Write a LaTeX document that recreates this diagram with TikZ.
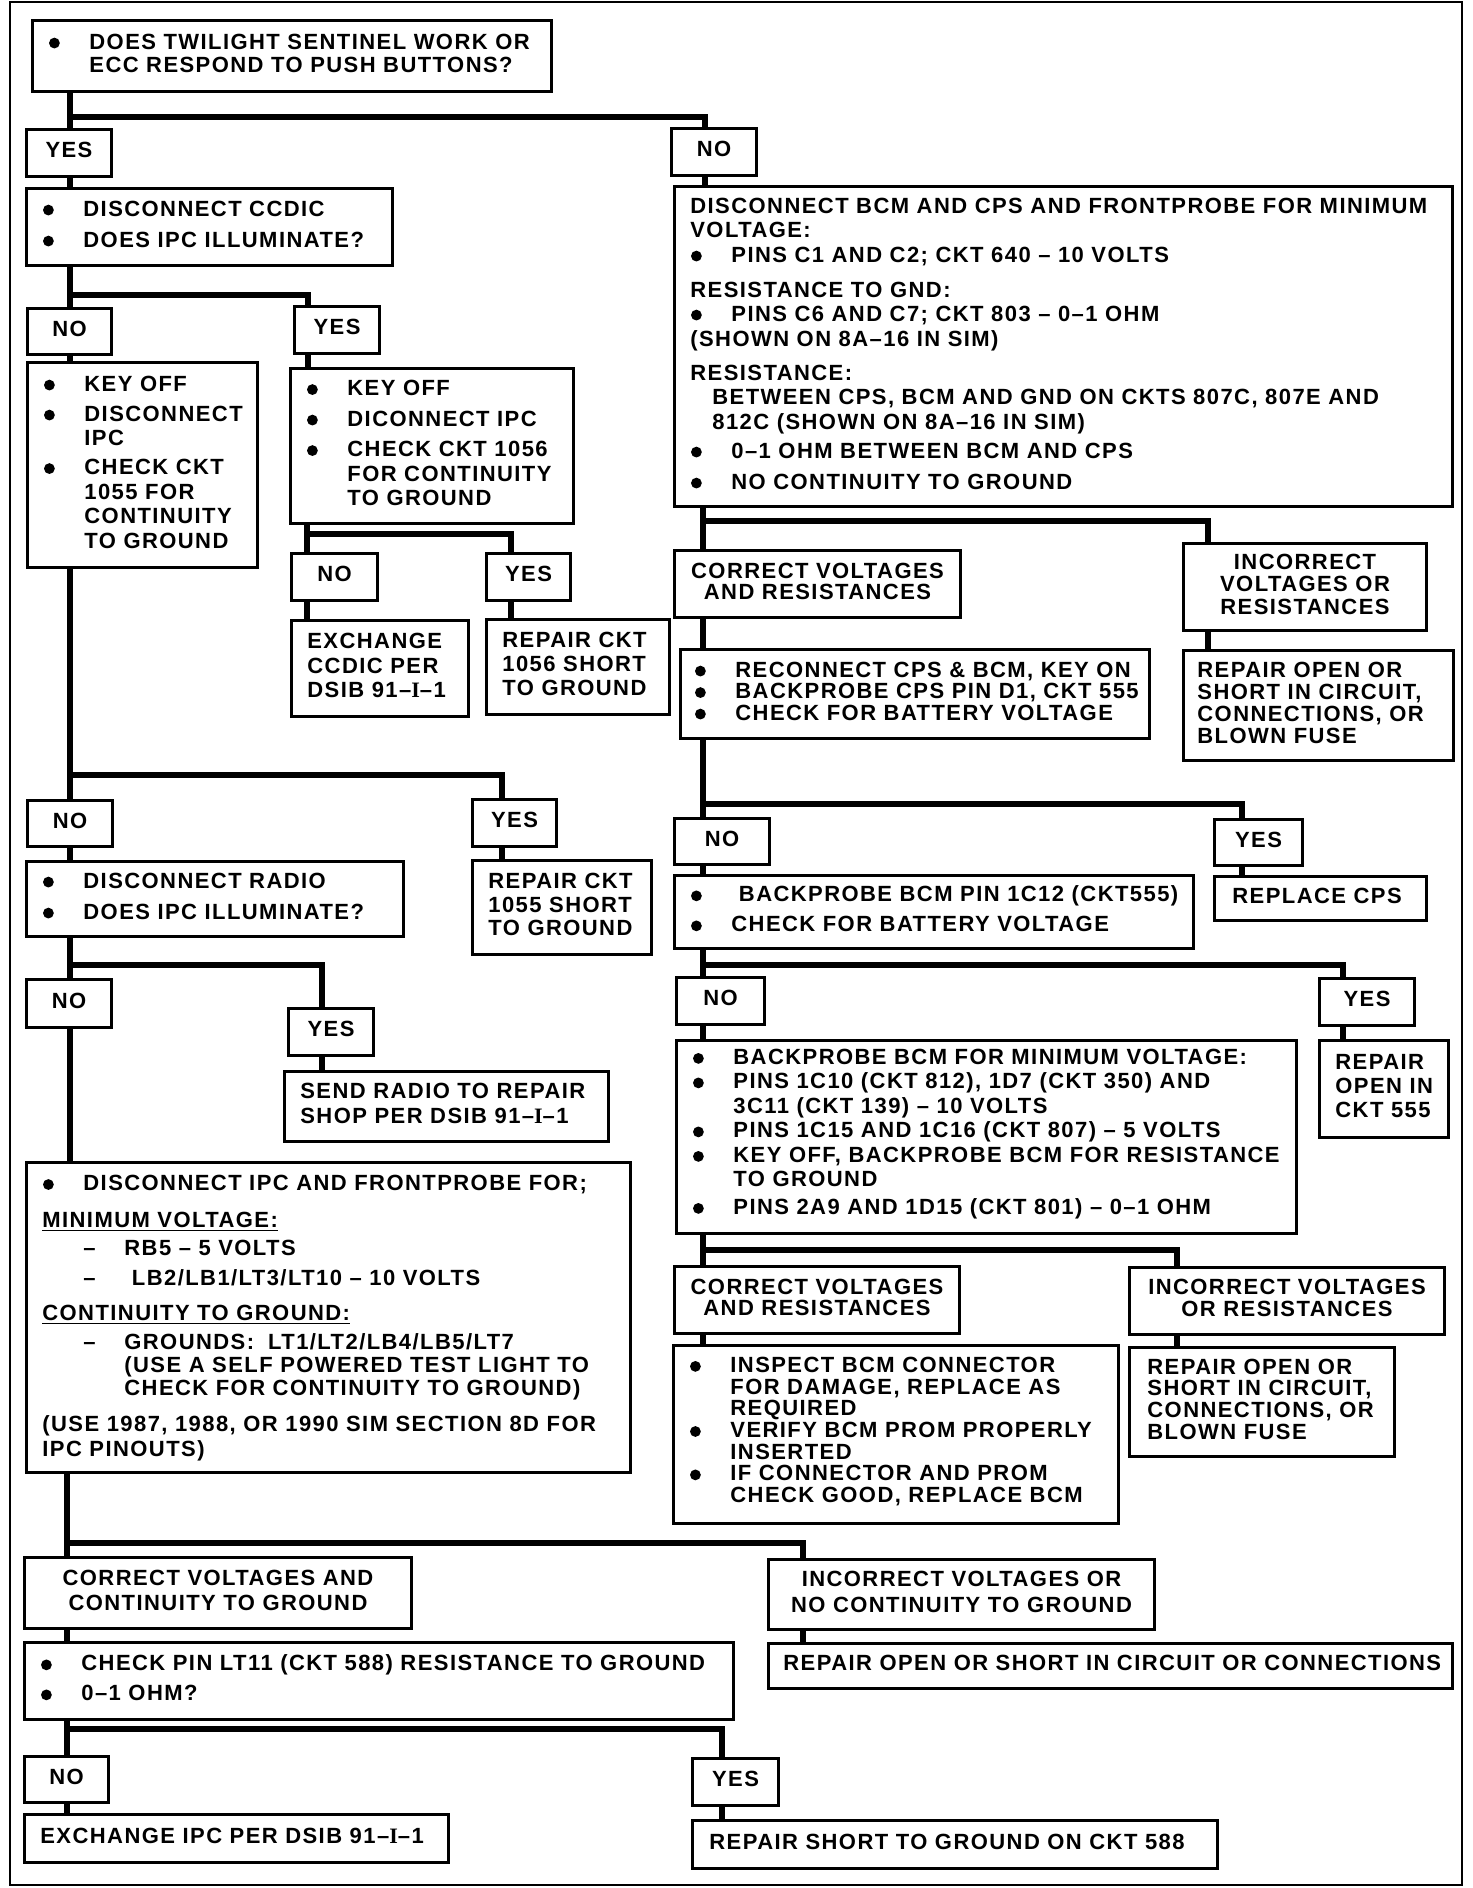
\documentclass[tikz,border=0pt]{standalone}
\usepackage{fontspec}
\setmainfont{Liberation Sans}[LetterSpace=6.5]
\newfontfamily\serifI{Liberation Serif}[LetterSpace=6.5]
\usepackage{graphicx}
\newcommand\bu{\makebox[20.5pt][l]{\hspace{0.3pt}\tikz[baseline=0pt]\fill (3pt,3pt) circle[radius=2.7pt];}}
\newcommand\ind{\hspace*{20.5pt}}
\newcommand\dl{\hspace*{20.5pt}\makebox[20.5pt][l]{–}}
\newcommand\dli{\hspace*{41pt}}
\newcommand\sI{{\serifI\bfseries I}}
\begin{document}
\begin{tikzpicture}[x=0.5pt, y=-0.5pt,
  bx/.style={draw, line width=1.5pt, inner sep=0pt, anchor=north west},
  lab/.style={draw, line width=1.5pt, inner sep=0pt, anchor=north west, align=center,
    font=\fontsize{11pt}{13pt}\selectfont\bfseries, execute at end node={\rule[-3pt]{0pt}{3pt}}},
  tx/.style={anchor=west, inner sep=0pt, align=left, yshift=1.5pt},
  fnt/.style={font=\fontsize{11pt}{#1}\selectfont\bfseries},
  conn/.style={line width=3pt, line join=miter},
  sz/.style 2 args={minimum width=#1, minimum height=#2}]
\fill[white] (0,0) rectangle (1472,1888);
\useasboundingbox (0,0) rectangle (1472,1888);
\draw[line width=1.3pt] (10,2) rectangle (1462,1885);

% ---------- left column ----------
\node[bx, sz={259.5pt}{35.5pt}] (q1) at (31,19) {};
\node[tx, fnt=11.5pt] (q1t) at ([xshift=8.5pt]q1.west) {\bu DOES TWILIGHT SENTINEL WORK OR\\ \ind ECC RESPOND TO PUSH BUTTONS?};
\node[lab, sz={42.5pt}{23.5pt}] (yes1) at (25,128) {YES};
\node[lab, sz={42.5pt}{23.5pt}] (no1) at (670,127) {NO};

\node[bx, sz={183pt}{38.5pt}] (ccdic) at (25,187) {};
\node[tx, fnt=15.5pt] (ccdict) at ([xshift=8.5pt]ccdic.west) {\bu DISCONNECT CCDIC\\ \bu DOES IPC ILLUMINATE?};
\node[lab, sz={42pt}{23pt}] (no2) at (26,307) {NO};
\node[lab, sz={42.5pt}{23.5pt}] (yes2) at (293,305) {YES};

\node[bx, sz={115pt}{102.5pt}] (keyL) at (26,361) {};
\node[tx, fnt=12.25pt] (keyLt) at ([xshift=8.5pt]keyL.west) {\bu KEY OFF\\[2.75pt] \bu DISCONNECT\\ \ind IPC\\[2.25pt] \bu CHECK CKT\\ \ind 1055 FOR\\ \ind CONTINUITY\\ \ind TO GROUND};
\node[bx, sz={141.5pt}{77.5pt}] (keyR) at (289,367) {};
\node[tx, fnt=12.25pt] (keyRt) at ([xshift=8.5pt]keyR.west) {\bu KEY OFF\\[3pt] \bu DICONNECT IPC\\[3pt] \bu CHECK CKT 1056\\ \ind FOR CONTINUITY\\ \ind TO GROUND};

\node[lab, sz={43pt}{23.5pt}] (no3) at (290,552) {NO};
\node[lab, sz={42pt}{23.5pt}] (yes3) at (485,552) {YES};
\node[bx, sz={88.5pt}{48pt}] (exch) at (290,619) {};
\node[tx, fnt=12.25pt] (excht) at ([xshift=8.5pt]exch.west) {EXCHANGE\\ CCDIC PER\\ DSIB 91–\sI–1};
\node[bx, sz={91.5pt}{47.5pt}] (rep1056) at (485,618) {};
\node[tx, fnt=12pt] (rep1056t) at ([xshift=8.5pt]rep1056.west) {REPAIR CKT\\ 1056 SHORT\\ TO GROUND};

\node[lab, sz={42.5pt}{23pt}] (no4) at (26,799) {NO};
\node[lab, sz={42pt}{23.5pt}] (yes4) at (471,798) {YES};
\node[bx, sz={188.5pt}{37.5pt}] (radio) at (25,860) {};
\node[tx, fnt=15.5pt] (radiot) at ([xshift=8.5pt]radio.west) {\bu DISCONNECT RADIO\\ \bu DOES IPC ILLUMINATE?};
\node[bx, sz={89.5pt}{47pt}] (rep1055) at (471,859) {};
\node[tx, fnt=11.75pt] (rep1055t) at ([xshift=8.5pt]rep1055.west) {REPAIR CKT\\ 1055 SHORT\\ TO GROUND};

\node[lab, sz={42.5pt}{24pt}] (no5) at (25,978) {NO};
\node[lab, sz={42.5pt}{23.5pt}] (yes5) at (287,1007) {YES};
\node[bx, sz={162pt}{35pt}] (send) at (283,1070) {};
\node[tx, fnt=12.5pt] (sendt) at ([xshift=8.5pt]send.west) {SEND RADIO TO REPAIR\\ SHOP PER DSIB 91–\sI–1};

\node[bx, sz={302pt}{155pt}] (ipc) at (25,1161) {};
\node[tx, fnt=11.5pt, yshift=-1.8pt] (ipct) at ([xshift=8.5pt]ipc.west) {\bu DISCONNECT IPC AND FRONTPROBE FOR;\\[7pt]
\underline{MINIMUM VOLTAGE:}\\[2.5pt]
\dl RB5 – 5 VOLTS\\[3.5pt]
\dl\ LB2/LB1/LT3/LT10 – 10 VOLTS\\[6pt]
\underline{CONTINUITY TO GROUND:}\\[3pt]
\dl GROUNDS:\hspace{7pt}LT1/LT2/LB4/LB5/LT7\\
\dli (USE A SELF POWERED TEST LIGHT TO\\
\dli CHECK FOR CONTINUITY TO GROUND)\\[6.5pt]
(USE 1987, 1988, OR 1990 SIM SECTION 8D FOR\\[1pt]
IPC PINOUTS)};

\node[lab, fnt=12.5pt, sz={193.5pt}{35.5pt}] (corrC) at (23,1556) {CORRECT VOLTAGES AND\\ CONTINUITY TO GROUND};
\node[lab, fnt=13pt, sz={193pt}{35pt}] (incC) at (767,1558) {INCORRECT VOLTAGES OR\\ NO CONTINUITY TO GROUND};
\node[bx, sz={354.5pt}{38.5pt}] (pin) at (23,1641) {};
\node[tx, fnt=15pt] (pint) at ([xshift=8.5pt]pin.west) {\bu CHECK PIN LT11 (CKT 588) RESISTANCE TO GROUND\\ \bu 0–1 OHM?};
\node[bx, sz={342pt}{22.5pt}] (repOS) at (767,1642) {};
\node[tx, fnt=13pt] (repOSt) at ([xshift=8pt]repOS.west) {REPAIR OPEN OR SHORT IN CIRCUIT OR CONNECTIONS};

\node[lab, sz={42pt}{23pt}] (no6) at (23,1755) {NO};
\node[lab, sz={43pt}{23.5pt}] (yes6) at (691,1757) {YES};
\node[bx, sz={212pt}{24pt}] (exIPC) at (23,1813) {};
\node[tx, fnt=13pt] (exIPCt) at ([xshift=8.5pt]exIPC.west) {EXCHANGE IPC PER DSIB 91–\sI–1};
\node[bx, sz={262.5pt}{24pt}] (rep588) at (691,1819) {};
\node[tx, fnt=13pt] (rep588t) at ([xshift=9pt]rep588.west) {REPAIR SHORT TO GROUND ON CKT 588};

% ---------- right column ----------
\node[bx, sz={389pt}{160pt}] (bcm) at (673,185) {};
\node[tx, fnt=12pt] (bcmt) at ([xshift=8.5pt]bcm.west) {DISCONNECT BCM AND CPS AND FRONTPROBE FOR MINIMUM\\
VOLTAGE:\\[0.5pt]
\bu PINS C1 AND C2; CKT 640 – 10 VOLTS\\[5.5pt]
RESISTANCE TO GND:\\
\bu PINS C6 AND C7; CKT 803 – 0–1 OHM\\[0.5pt]
(SHOWN ON 8A–16 IN SIM)\\[5pt]
RESISTANCE:\\
\hspace*{11pt}BETWEEN CPS, BCM AND GND ON CKTS 807C, 807E AND\\[0.5pt]
\hspace*{11pt}812C (SHOWN ON 8A–16 IN SIM)\\[2.5pt]
\bu 0–1 OHM BETWEEN BCM AND CPS\\[3.5pt]
\bu NO CONTINUITY TO GROUND};

\node[lab, fnt=10.5pt, sz={143pt}{33.5pt}] (corrA) at (673,549) {CORRECT VOLTAGES\\ AND RESISTANCES};
\node[lab, fnt=11.25pt, sz={121.5pt}{43.5pt}] (incA) at (1182,542) {INCORRECT\\ VOLTAGES OR\\ RESISTANCES};
\node[bx, sz={234.5pt}{44.5pt}] (recon) at (679,648) {};
\node[tx, fnt=10.75pt] (recont) at ([xshift=7.5pt]recon.west) {\bu RECONNECT CPS \& BCM, KEY ON\\ \bu BACKPROBE CPS PIN D1, CKT 555\\ \bu CHECK FOR BATTERY VOLTAGE};
\node[bx, sz={135pt}{55pt}] (repA) at (1182,649) {};
\node[tx, fnt=11pt] (repAt) at ([xshift=7.5pt]repA.west) {REPAIR OPEN OR\\ SHORT IN CIRCUIT,\\ CONNECTIONS, OR\\ BLOWN FUSE};

\node[lab, sz={47.5pt}{23pt}] (no7) at (673,817) {NO};
\node[lab, sz={44pt}{23pt}] (yes7) at (1213,818) {YES};
\node[bx, sz={259.5pt}{36.5pt}] (bp1) at (673,874) {};
\node[tx, fnt=15pt] (bp1t) at ([xshift=8.5pt]bp1.west) {\bu\ BACKPROBE BCM PIN 1C12 (CKT555)\\ \bu CHECK FOR BATTERY VOLTAGE};
\node[bx, sz={106pt}{22pt}] (replCPS) at (1213,875) {};
\node[tx, fnt=13pt] (replCPSt) at ([xshift=9.5pt]replCPS.west) {REPLACE CPS};

\node[lab, sz={44pt}{23.5pt}] (no8) at (675,976) {NO};
\node[lab, sz={47.5pt}{23.5pt}] (yes8) at (1318,977) {YES};
\node[bx, sz={310pt}{96.5pt}] (bp2) at (675,1039) {};
\node[tx, fnt=12.25pt] (bp2t) at ([xshift=8.5pt]bp2.west) {\bu BACKPROBE BCM FOR MINIMUM VOLTAGE:\\
\bu PINS 1C10 (CKT 812), 1D7 (CKT 350) AND\\
\ind 3C11 (CKT 139) – 10 VOLTS\\
\bu PINS 1C15 AND 1C16 (CKT 807) – 5 VOLTS\\
\bu KEY OFF, BACKPROBE BCM FOR RESISTANCE\\
\ind TO GROUND\\[1.5pt]
\bu PINS 2A9 AND 1D15 (CKT 801) – 0–1 OHM};
\node[bx, sz={64.5pt}{48.5pt}] (rep555) at (1318,1039) {};
\node[tx, fnt=12pt] (rep555t) at ([xshift=8.5pt]rep555.west) {REPAIR\\ OPEN IN\\ CKT 555};

\node[lab, fnt=10.5pt, sz={142.5pt}{33.5pt}] (corrB) at (673,1265) {CORRECT VOLTAGES\\ AND RESISTANCES};
\node[lab, fnt=11pt, sz={157.5pt}{33.5pt}] (incB) at (1128,1266) {INCORRECT VOLTAGES\\ OR RESISTANCES};
\node[bx, sz={222.5pt}{89pt}] (insp) at (672,1344) {};
\node[tx, fnt=10.85pt] (inspt) at ([xshift=8.5pt]insp.west) {\bu INSPECT BCM CONNECTOR\\ \ind FOR DAMAGE, REPLACE AS\\ \ind REQUIRED\\ \bu VERIFY BCM PROM PROPERLY\\ \ind INSERTED\\ \bu IF CONNECTOR AND PROM\\ \ind CHECK GOOD, REPLACE BCM};
\node[bx, sz={132.5pt}{54.5pt}] (repB) at (1128,1346) {};
\node[tx, fnt=10.85pt] (repBt) at ([xshift=9.5pt]repB.west) {REPAIR OPEN OR\\ SHORT IN CIRCUIT,\\ CONNECTIONS, OR\\ BLOWN FUSE};

% ---------- junctions and vertical lines ----------
\coordinate (b1) at (70,117);
\coordinate (b2) at (70,295);
\coordinate (b3) at (307,534);
\coordinate (b4) at (70,775);
\coordinate (b5) at (70,965);
\coordinate (b6) at (67,1543);
\coordinate (b7) at (67,1729);
\coordinate (b8) at (703,521);
\coordinate (b9) at (703,804);
\coordinate (b10) at (703,965);
\coordinate (b11) at (703,1250);
\coordinate (xB) at (705,0);
\coordinate (xC) at (308,0);
\coordinate (xE) at (511,0);
\coordinate (xF) at (502,0);
\coordinate (xG) at (322,0);
\coordinate (xI) at (803,0);
\coordinate (xJ) at (722,0);
\coordinate (xK) at (1208,0);
\coordinate (xL) at (1242,0);
\coordinate (xM) at (1343,0);
\coordinate (xN) at (1177,0);

% ---------- connectors ----------
\draw[conn] (q1.south -| b1) -- (yes1.north -| b1);
\draw[conn] (b1) -| (no1.north -| xB);
\draw[conn] (yes1.south -| b1) -- (ccdic.north -| b1);
\draw[conn] (no1.south -| xB) -- (bcm.north -| xB);

\draw[conn] (ccdic.south -| b2) -- (no2.north -| b2);
\draw[conn] (b2) -| (yes2.north -| xC);
\draw[conn] (no2.south -| b2) -- (keyL.north -| b2);
\draw[conn] (yes2.south -| xC) -- (keyR.north -| xC);

\draw[conn] (keyR.south -| b3) -- (no3.north -| b3);
\draw[conn] (b3) -| (yes3.north -| xE);
\draw[conn] (no3.south -| b3) -- (exch.north -| b3);
\draw[conn] (yes3.south -| xE) -- (rep1056.north -| xE);

\draw[conn] (keyL.south -| b4) -- (no4.north -| b4);
\draw[conn] (b4) -| (yes4.north -| xF);
\draw[conn] (no4.south -| b4) -- (radio.north -| b4);
\draw[conn] (yes4.south -| xF) -- (rep1055.north -| xF);

\draw[conn] (radio.south -| b5) -- (no5.north -| b5);
\draw[conn] (b5) -| (yes5.north -| xG);
\draw[conn] (no5.south -| b5) -- (ipc.north -| b5);
\draw[conn] (yes5.south -| xG) -- (send.north -| xG);

\draw[conn] (ipc.south -| b6) -- (corrC.north -| b6);
\draw[conn] (b6) -| (incC.north -| xI);
\draw[conn] (corrC.south -| b6) -- (pin.north -| b6);
\draw[conn] (incC.south -| xI) -- (repOS.north -| xI);

\draw[conn] (pin.south -| b7) -- (no6.north -| b7);
\draw[conn] (b7) -| (yes6.north -| xJ);
\draw[conn] (no6.south -| b7) -- (exIPC.north -| b7);
\draw[conn] (yes6.south -| xJ) -- (rep588.north -| xJ);

\draw[conn] (bcm.south -| b8) -- (corrA.north -| b8);
\draw[conn] (b8) -| (incA.north -| xK);
\draw[conn] (corrA.south -| b8) -- (recon.north -| b8);
\draw[conn] (incA.south -| xK) -- (repA.north -| xK);

\draw[conn] (recon.south -| b9) -- (no7.north -| b9);
\draw[conn] (b9) -| (yes7.north -| xL);
\draw[conn] (no7.south -| b9) -- (bp1.north -| b9);
\draw[conn] (yes7.south -| xL) -- (replCPS.north -| xL);

\draw[conn] (bp1.south -| b10) -- (no8.north -| b10);
\draw[conn] (b10) -| (yes8.north -| xM);
\draw[conn] (no8.south -| b10) -- (bp2.north -| b10);
\draw[conn] (yes8.south -| xM) -- (rep555.north -| xM);

\draw[conn] (bp2.south -| b11) -- (corrB.north -| b11);
\draw[conn] (b11) -| (incB.north -| xN);
\draw[conn] (corrB.south -| b11) -- (insp.north -| b11);
\draw[conn] (incB.south -| xN) -- (repB.north -| xN);
\end{tikzpicture}
\end{document}
